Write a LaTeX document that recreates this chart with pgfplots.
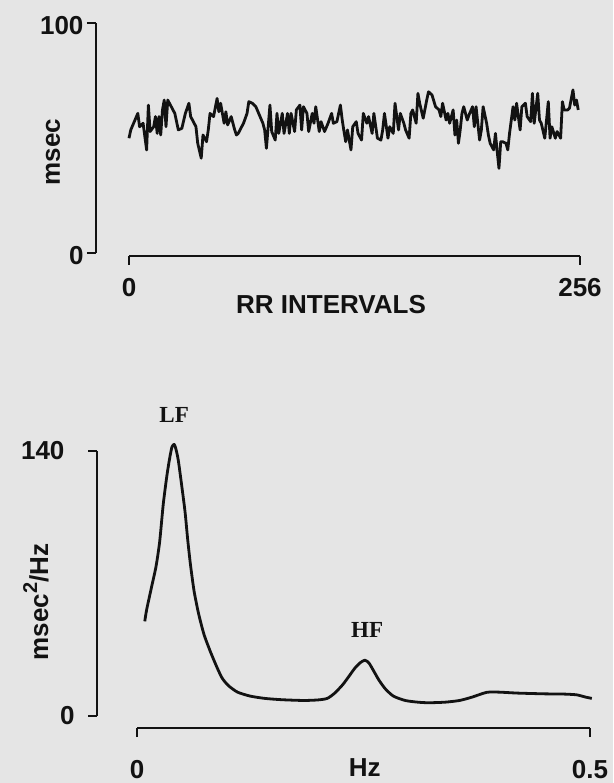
\documentclass[border=0pt]{standalone}
\usepackage{pgfplots}
\usepackage{pgfplotstable}
\pgfplotsset{compat=1.18}
\usepackage{fontspec}
\setmainfont{Liberation Sans}
\newfontfamily\seriffont{Liberation Serif}
\definecolor{bg}{RGB}{229,229,229}
\definecolor{ink}{RGB}{18,18,18}
\newcommand\lblfont{\fontsize{26}{30}\selectfont\bfseries}
\newcommand\pkfont{\seriffont\fontsize{23}{28}\selectfont\bfseries}

\pgfplotstableread{
i v
0 49.9
1 53.5
3 57.1
5 60.7
6 54.9
8 56.4
10 44.8
11 64.3
12 52.8
14 54.9
15 59.3
16 52.0
17 59.3
18 51.3
19 62.2
20 66.5
21 54.9
22 66.5
24 63.6
26 60.7
28 53.5
30 54.2
32 60.7
34 65.1
35 59.3
37 56.4
38 54.9
39 47.7
41 41.2
42 51.3
44 48.4
45 53.5
46 60.7
48 59.3
50 67.2
51 61.4
52 65.1
54 56.4
55 61.4
56 55.7
58 59.3
60 53.5
61 51.3
62 52.0
63 53.5
65 56.4
67 60.7
68 65.8
70 65.1
72 63.6
74 60.0
76 56.4
77 53.5
78 45.5
80 64.3
81 52.8
83 49.1
84 60.7
85 52.0
87 60.7
88 52.0
90 60.7
91 52.0
92 60.7
94 52.8
95 62.2
97 64.3
98 53.5
99 63.6
101 60.7
102 52.8
104 60.7
105 56.4
106 63.6
108 52.8
109 57.1
111 52.8
113 56.4
115 60.7
116 56.4
118 57.1
120 64.3
121 58.0
122 53.0
123 48.4
124 53.5
126 44.8
127 54.9
129 57.1
130 52.0
132 49.1
133 60.7
135 56.4
136 59.3
138 52.0
139 60.7
141 49.9
143 49.1
144 53.5
145 60.7
147 49.9
148 54.9
150 52.0
151 65.1
153 53.5
154 60.7
156 56.4
157 53.5
159 49.9
160 60.7
161 62.2
163 56.4
164 69.4
165 65.1
167 58.6
169 66.5
170 70.1
172 68.7
174 63.6
176 62.2
177 59.3
178 65.1
180 57.8
181 60.7
182 56.4
184 62.2
185 51.3
186 57.8
187 47.7
188 53.5
189 60.7
190 63.6
192 57.8
193 60.0
195 63.6
196 54.9
197 63.6
199 49.1
200 53.5
201 63.6
203 56.4
204 51.3
205 47.7
207 44.8
208 52.0
209 44.1
210 36.8
211 48.4
212 48.4
214 47.7
215 44.8
216 52.0
218 63.6
219 57.8
220 65.1
222 53.5
223 63.6
225 65.1
226 59.3
228 57.1
229 69.4
230 56.4
232 69.4
233 57.8
234 56.4
236 49.9
237 57.8
238 65.8
239 49.9
240 54.9
242 49.9
243 52.8
245 49.9
246 65.8
247 62.2
249 62.2
250 62.9
252 70.9
253 64.3
254 66.5
255 62.2
}\rrdata

\pgfplotstableread{
f p
0.0086 50
0.0095 53
0.011 57
0.016 68
0.021 79
0.025 92
0.029 112
0.033 127
0.036 136
0.0385 142
0.041 143.5
0.043 141
0.0456 135
0.049 123
0.053 108
0.056 93
0.059 80
0.063 66
0.068 54
0.074 43
0.081 34
0.088 26
0.094 20
0.101 16
0.111 12.6
0.125 10.5
0.141 9.3
0.160 8.6
0.184 8.2
0.200 8.5
0.210 9.3
0.218 12
0.227 16.5
0.234 21
0.240 25
0.246 28
0.2515 29.5
0.256 28
0.261 24
0.267 19
0.274 14.4
0.283 10.5
0.296 8.2
0.310 7.3
0.322 7
0.340 7.3
0.356 8.2
0.370 10
0.386 12.5
0.400 12.6
0.420 12.1
0.450 11.7
0.470 11.6
0.485 11.2
0.495 10
0.502 9.3
}\spdata

\pgfplotsset{
  scanaxis/.style={
    scale only axis,
    axis x line*=bottom,
    axis y line*=left,
    axis line style={-, line width=2.4pt, ink},
    tick align=outside,
    major tick length=9pt,
    tick style={line width=2.4pt, ink},
    tick label style={font=\lblfont, text=ink},
    label style={font=\lblfont, text=ink},
    /pgf/number format/assume math mode=true,
    clip=false,
  }
}

\begin{document}
\begin{tikzpicture}
\path[use as bounding box, fill=bg] (0,0) rectangle (613pt,783pt);

\begin{axis}[scanaxis,
  at={(129pt,530pt)}, anchor=south west,
  width=451pt, height=230pt,
  xmin=0, xmax=256, ymin=0, ymax=100,
  xtick={0,256}, ytick={0,100},
  xticklabel style={yshift=-10pt},
  yticklabel style={yshift=-3pt},
  axis y line shift=33pt, axis x line shift=3pt,
  xlabel={RR INTERVALS}, ylabel={msec},
  xlabel style={at={(axis description cs:0.448,-0.222)}, anchor=center},
  ylabel style={at={(axis description cs:-0.1685,0.439)}, anchor=center},
]
\addplot[ink, line width=2.8pt, line join=round] table[x=i, y=v] {\rrdata};
\end{axis}

\begin{axis}[scanaxis,
  at={(137pt,67pt)}, anchor=south west,
  width=453pt, height=265pt,
  xmin=0, xmax=0.5, ymin=0, ymax=140,
  xtick={0,0.5}, xticklabels={0,0.5},
  xticklabel style={yshift=-20pt},
  ytick={0,140}, yticklabels={0,{140\hspace*{10pt}}},
  yticklabel style={xshift=-10pt},
  axis y line shift=40pt, axis x line shift=12pt,
  xlabel={Hz}, ylabel={msec\raisebox{0.42em}{\fontsize{20}{20}\selectfont 2}/Hz},
  xlabel style={at={(axis description cs:0.503,-0.196)}, anchor=center},
  ylabel style={at={(axis description cs:-0.223,0.430)}, anchor=center},
]
\addplot[ink, line width=2.8pt, line join=round, smooth, tension=0.4] table[x=f, y=p] {\spdata};
\node[font=\pkfont, text=ink] at (axis cs:0.041,159) {LF};
\node[font=\pkfont, text=ink] at (axis cs:0.254,45.4) {HF};
\end{axis}
\end{tikzpicture}
\end{document}
